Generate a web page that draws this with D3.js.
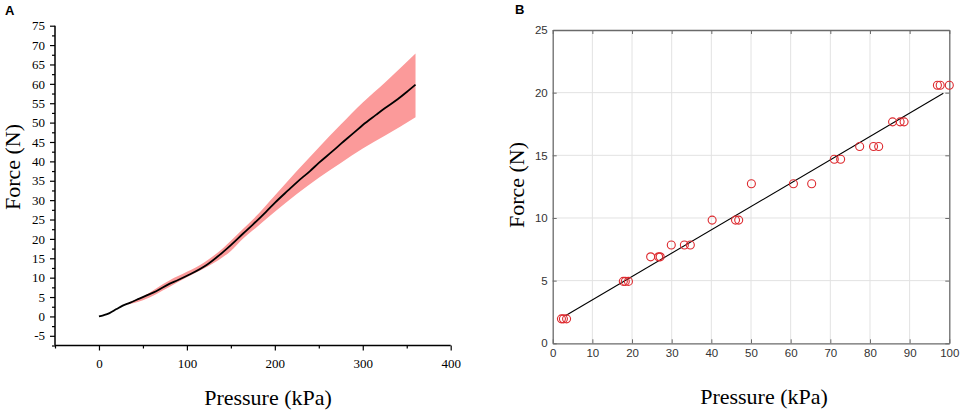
<!DOCTYPE html>
<html><head><meta charset="utf-8">
<script src="https://cdn.jsdelivr.net/npm/d3@7"></script>
<style>body{margin:0;background:#fff}svg{display:block}</style>
</head><body>
<svg id="c" width="964" height="412"></svg>
<script>
// Panel A data
const meanX = [0,5,12,20,27,35,46,55,65,80,90,103,122,141,150,164,175,190,200,215,225,240,250,265,275,290,300,315,325,340,350,360];
const meanY = [0,0.3,0.85,1.9,2.8,3.5,4.6,5.5,6.5,8.4,9.4,10.8,13.2,16.6,18.4,21.4,23.7,27.0,29.3,32.5,34.6,37.5,39.6,42.5,44.5,47.4,49.4,52.0,53.7,56.1,57.9,59.8];
const bandX = [30,50,80,100,120,141,150,164,175,200,225,250,275,300,325,360];
const bandUpper = [3.2,5.2,9.3,11.5,14.0,17.6,19.5,22.6,25.0,31.2,37.5,43.6,49.5,55.2,60.3,67.8];
const bandLower = [3.0,4.2,7.6,10.1,12.4,15.3,16.9,20.1,22.2,27.0,31.6,35.8,39.6,43.3,46.6,51.4];
const aXTicks = [0,100,200,300,400];
const aXMinor = [-50,50,150,250,350];
const aYTicks = [-5,0,5,10,15,20,25,30,35,40,45,50,55,60,65,70,75];
const aYMinor = [-7.5,-2.5,2.5,7.5,12.5,17.5,22.5,27.5,32.5,37.5,42.5,47.5,52.5,57.5,62.5,67.5,72.5];

// Panel B data
const ptX = [2.2,2.7,3.5,17.8,18.3,19.1,24.7,26.7,27.1,29.9,33.2,34.7,40.2,46.1,46.9,50.1,60.7,65.3,71.0,72.6,77.4,80.9,82.2,85.7,87.6,88.6,97.0,97.7,100];
const ptY = [1.95,1.95,1.95,4.94,4.94,4.94,6.9,6.9,6.9,7.84,7.84,7.84,9.83,9.83,9.83,12.73,12.73,12.73,14.69,14.69,15.7,15.7,15.7,17.67,17.67,17.67,20.59,20.59,20.59];
const fitX = [3.2, 98.5];
const fitY = [2.2, 19.95];
const bXTicks = [0,10,20,30,40,50,60,70,80,90,100];
const bYTicks = [0,5,10,15,20,25];

const svg = d3.select('#c');
const serif = "'Liberation Serif','Times New Roman',serif";
const sans = "'Liberation Sans',Arial,sans-serif";
const plain = d => String(d);

// ---------- Panel A ----------
const ax = d3.scaleLinear().domain([-50,400]).range([55,450.7]);
const ay = d3.scaleLinear().domain([-7.5,75]).range([345.5,25.7]);
const gA = svg.append('g');

const band = bandX.map((x,i)=>({x, u:bandUpper[i], l:bandLower[i]}));
gA.append('path').datum(band)
  .attr('d', d3.area().x(d=>ax(d.x)).y0(d=>ay(d.l)).y1(d=>ay(d.u)).curve(d3.curveMonotoneX))
  .attr('fill','#fb9a9a');
const mean = meanX.map((x,i)=>({x, y:meanY[i]}));
gA.append('path').datum(mean)
  .attr('d', d3.line().x(d=>ax(d.x)).y(d=>ay(d.y)).curve(d3.curveMonotoneX))
  .attr('fill','none').attr('stroke','#000').attr('stroke-width',1.8);

const axA_y = gA.append('g').attr('transform',`translate(${ax(-50)},0)`)
  .call(d3.axisLeft(ay).tickValues(aYTicks).tickSize(5).tickPadding(5).tickFormat(plain));
gA.append('g').attr('transform',`translate(${ax(-50)},0)`)
  .call(d3.axisLeft(ay).tickValues(aYMinor).tickSize(3).tickFormat(''))
  .select('.domain').remove();
const axA_x = gA.append('g').attr('transform',`translate(0,${ay(-7.5)})`)
  .call(d3.axisBottom(ax).tickValues(aXTicks).tickSize(5).tickPadding(8).tickFormat(plain));
gA.append('g').attr('transform',`translate(0,${ay(-7.5)})`)
  .call(d3.axisBottom(ax).tickValues(aXMinor).tickSize(3).tickFormat(''))
  .select('.domain').remove();
gA.selectAll('.domain').attr('stroke','#000').attr('stroke-width',1.5);
gA.selectAll('.tick line').attr('stroke','#000').attr('stroke-width',1.2);
gA.selectAll('.tick text').style('font-family',serif).style('font-size','13px').attr('fill','#000');
axA_y.select('.domain').attr('d',`M0,${ay(75)}V${ay(-7.5)}`);
axA_x.select('.domain').attr('d',`M${ax(-50)},0H${ax(400)}`);

gA.append('text').attr('transform',`translate(20,167) rotate(-90)`)
  .attr('text-anchor','middle').style('font-family',serif).style('font-size','22px').text('Force (N)');
gA.append('text').attr('x',268).attr('y',405)
  .attr('text-anchor','middle').style('font-family',serif).style('font-size','22px').text('Pressure (kPa)');
gA.append('text').attr('x',5).attr('y',15)
  .style('font-family',sans).attr('font-weight','bold').style('font-size','13px').text('A');

// ---------- Panel B ----------
const bx = d3.scaleLinear().domain([0,100]).range([552.7,949.3]);
const by = d3.scaleLinear().domain([0,25]).range([343.3,30]);
const gB = svg.append('g');
// grid
gB.append('g').selectAll('line').data(bXTicks.slice(1,-1)).join('line')
  .attr('x1',d=>bx(d)).attr('x2',d=>bx(d)).attr('y1',by(0)).attr('y2',by(25))
  .attr('stroke','#e2e2e2').attr('stroke-width',1);
gB.append('g').selectAll('line').data(bYTicks.slice(1,-1)).join('line')
  .attr('y1',d=>by(d)).attr('y2',d=>by(d)).attr('x1',bx(0)).attr('x2',bx(100))
  .attr('stroke','#e2e2e2').attr('stroke-width',1);

// axes with inward ticks
gB.append('g').attr('transform',`translate(0,${by(0)})`)
  .call(d3.axisBottom(bx).tickValues(bXTicks).tickSize(-4).tickPadding(6).tickSizeOuter(0).tickFormat(plain));
gB.append('g').attr('transform',`translate(${bx(0)},0)`)
  .call(d3.axisLeft(by).tickValues(bYTicks).tickSize(-4).tickPadding(5).tickSizeOuter(0).tickFormat(plain));
gB.append('g').attr('transform',`translate(0,${by(25)})`)
  .call(d3.axisTop(bx).tickValues(bXTicks).tickSize(-4).tickFormat('').tickSizeOuter(0));
gB.append('g').attr('transform',`translate(${bx(100)},0)`)
  .call(d3.axisRight(by).tickValues(bYTicks).tickSize(-4).tickFormat('').tickSizeOuter(0));
gB.selectAll('.domain').attr('stroke','#6a6a6a').attr('stroke-width',1.3);
gB.selectAll('.tick line').attr('stroke','#6a6a6a');
gB.selectAll('.tick text').style('font-family',sans).style('font-size','11.5px').attr('fill','#333');

// fit line
gB.append('line').attr('x1',bx(fitX[0])).attr('y1',by(fitY[0])).attr('x2',bx(fitX[1])).attr('y2',by(fitY[1]))
  .attr('stroke','#000').attr('stroke-width',1.1);
// points
gB.append('g').selectAll('circle').data(ptX.map((x,i)=>({x,y:ptY[i]}))).join('circle')
  .attr('cx',d=>bx(d.x)).attr('cy',d=>by(d.y)).attr('r',4)
  .attr('fill','none').attr('stroke','#dd2a2f').attr('stroke-width',1.1);

gB.append('text').attr('transform',`translate(524,185) rotate(-90)`)
  .attr('text-anchor','middle').style('font-family',serif).style('font-size','22px').text('Force (N)');
gB.append('text').attr('x',764).attr('y',404)
  .attr('text-anchor','middle').style('font-family',serif).style('font-size','22px').text('Pressure (kPa)');
gB.append('text').attr('x',515).attr('y',14)
  .style('font-family',sans).attr('font-weight','bold').style('font-size','13px').text('B');
</script>
</body></html>
